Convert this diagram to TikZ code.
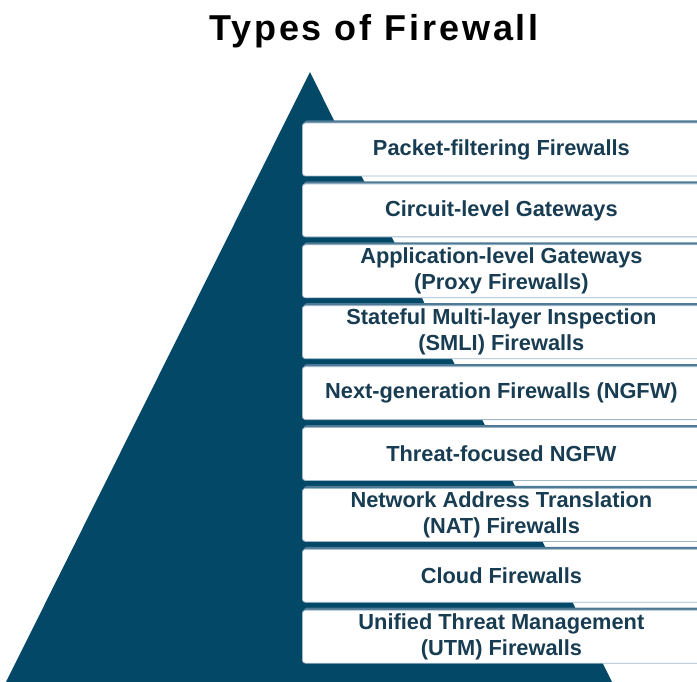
\documentclass[tikz,border=0pt]{standalone}
\usepackage{fontspec}
\setmainfont{Liberation Sans}
\usetikzlibrary{shadows}
\definecolor{pyramid}{RGB}{3,72,102}
\definecolor{boxtext}{RGB}{24,60,82}
\definecolor{boxshade}{RGB}{78,122,150}
\definecolor{boxline}{RGB}{160,185,202}
\tikzset{
    fwbox/.style={rectangle,rounded corners=3pt,fill=white,draw=boxline,line width=0.8pt,
        minimum width=398pt,minimum height=53pt,inner sep=0pt,anchor=west,align=center,
        text=boxtext,font=\fontsize{21.8}{26}\selectfont\bfseries,
        drop shadow={shadow xshift=1.5pt,shadow yshift=2.5pt,fill=boxshade,opacity=1}},
    heading/.style={font=\fontsize{36}{42}\selectfont\bfseries\addfontfeature{LetterSpace=8},text=black}
}

\begin{document}
\begin{tikzpicture}[x=1pt,y=-1pt]
    \useasboundingbox (0,0) rectangle (697,682);
    \clip (0,0) rectangle (697,682);
    \node[heading,anchor=base] (title) at (374,41) {Types of Firewall};
    \fill[pyramid] (310,72) -- (612,682) -- (6,682) -- cycle;
    \foreach \txt [count=\i from 0] in {
        Packet-filtering Firewalls,
        Circuit-level Gateways,
        {Application-level Gateways\\(Proxy Firewalls)},
        {Stateful Multi-layer Inspection\\(SMLI) Firewalls},
        Next-generation Firewalls (NGFW),
        Threat-focused NGFW,
        {Network Address Translation\\(NAT) Firewalls},
        Cloud Firewalls,
        {Unified Threat Management\\(UTM) Firewalls}}
        \node[fwbox] (type\i) at (302,149.5+60.9*\i) {\txt};
\end{tikzpicture}
\end{document}
